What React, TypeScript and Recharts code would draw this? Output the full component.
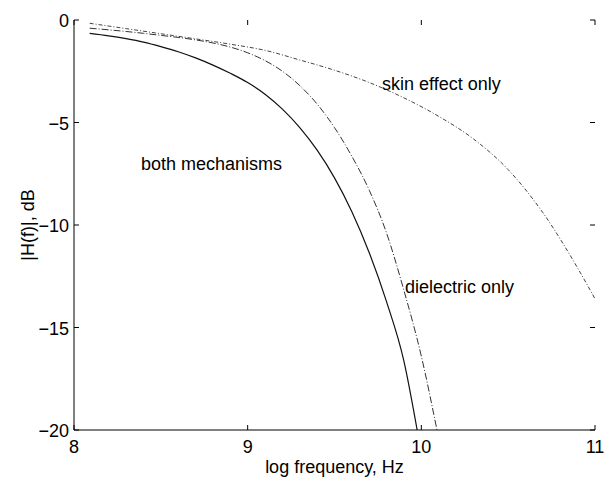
import React from 'react';
import { LineChart, Line, XAxis, YAxis } from 'recharts';

// log10 frequency (Hz) and |H(f)| in dB
const bothX = [8.09, 8.2, 8.3, 8.4, 8.5, 8.6, 8.7, 8.8, 8.9, 9.0, 9.1, 9.2, 9.3, 9.4, 9.5, 9.6, 9.7, 9.8, 9.9, 9.976];
const bothY = [-0.65, -0.77, -0.91, -1.08, -1.3, -1.55, -1.85, -2.2, -2.6, -3.05, -3.62, -4.35, -5.25, -6.35, -7.7, -9.35, -11.35, -13.75, -16.65, -20];

const dielectricX = [8.09, 8.2, 8.3, 8.4, 8.5, 8.6, 8.7, 8.8, 8.9, 9.0, 9.1, 9.2, 9.3, 9.4, 9.5, 9.6, 9.7, 9.8, 9.9, 10.0, 10.09];
const dielectricY = [-0.4, -0.48, -0.56, -0.65, -0.75, -0.85, -0.97, -1.12, -1.32, -1.6, -1.98, -2.5, -3.2, -4.1, -5.25, -6.65, -8.3, -10.4, -13.2, -16.4, -20];

const skinX = [8.09, 8.3, 8.5, 8.7, 8.9, 9.1, 9.3, 9.5, 9.7, 9.9, 10.1, 10.3, 10.5, 10.7, 10.9, 11.0];
const skinY = [-0.16, -0.42, -0.67, -0.92, -1.18, -1.48, -1.95, -2.45, -3.05, -3.8, -4.7, -5.8, -7.3, -9.4, -12.1, -13.6];

const xTicks = [8, 9, 10, 11];
const yTicks = [-20, -15, -10, -5, 0];

const toPoints = (xs: number[], ys: number[]) => xs.map((x, i) => ({ x, y: ys[i] }));
const bothData = toPoints(bothX, bothY);
const dielectricData = toPoints(dielectricX, dielectricY);
const skinData = toPoints(skinX, skinY);

const W = 607;
const H = 480;
const PLOT_LEFT = 74;
const PLOT_RIGHT = 595;
const PLOT_TOP = 20;
const PLOT_BOTTOM = 430;
const TICK_LEN = 5;
const FONT = '"Liberation Sans", Arial, Helvetica, sans-serif';

const fmt = (v: number) => (v < 0 ? '\u2212' + Math.abs(v) : String(v));

const XTick = ({ x, payload }: any) => (
  <g>
    <line x1={x} y1={PLOT_BOTTOM} x2={x} y2={PLOT_BOTTOM - TICK_LEN} stroke="#000" />
    <line x1={x} y1={PLOT_TOP} x2={x} y2={PLOT_TOP + TICK_LEN} stroke="#000" />
    <text x={x} y={453} textAnchor="middle" fontSize={18} fontFamily={FONT} fill="#000">
      {fmt(payload.value)}
    </text>
  </g>
);

const YTick = ({ y, payload }: any) => (
  <g>
    <line x1={PLOT_LEFT} y1={y} x2={PLOT_LEFT + TICK_LEN} y2={y} stroke="#000" />
    <line x1={PLOT_RIGHT} y1={y} x2={PLOT_RIGHT - TICK_LEN} y2={y} stroke="#000" />
    <text x={69} y={y + 7} textAnchor="end" fontSize={18} fontFamily={FONT} fill="#000">
      {fmt(payload.value)}
    </text>
  </g>
);

const App: React.FC = () => {
  return (
    <div style={{ position: 'absolute', left: 0, top: 0, width: W, height: H, background: '#fff' }}>
      <LineChart
        width={W}
        height={H}
        margin={{ top: PLOT_TOP, right: W - PLOT_RIGHT, left: 0, bottom: 0 }}
      >
        <XAxis
          dataKey="x"
          type="number"
          domain={[8, 11]}
          ticks={xTicks}
          height={H - PLOT_BOTTOM}
          tickLine={false}
          axisLine={{ stroke: '#000' }}
          tick={<XTick />}
          allowDataOverflow
        />
        <XAxis
          xAxisId="top"
          orientation="top"
          dataKey="x"
          type="number"
          domain={[8, 11]}
          height={0}
          tick={false}
          tickLine={false}
          axisLine={{ stroke: '#000' }}
        />
        <YAxis
          type="number"
          domain={[-20, 0]}
          ticks={yTicks}
          width={PLOT_LEFT}
          tickLine={false}
          axisLine={{ stroke: '#000' }}
          tick={<YTick />}
          allowDataOverflow
        />
        <YAxis
          yAxisId="right"
          orientation="right"
          type="number"
          domain={[-20, 0]}
          width={0}
          tick={false}
          tickLine={false}
          axisLine={{ stroke: '#000' }}
        />
        <Line data={bothData} dataKey="y" type="monotone" stroke="#111" strokeWidth={1.2} dot={false} isAnimationActive={false} />
        <Line data={dielectricData} dataKey="y" type="monotone" stroke="#333" strokeWidth={1} strokeDasharray="7 2 1 2" dot={false} isAnimationActive={false} />
        <Line data={skinData} dataKey="y" type="monotone" stroke="#444" strokeWidth={1} strokeDasharray="4 2 1 2" dot={false} isAnimationActive={false} />
      </LineChart>
      <svg width={W} height={H} style={{ position: 'absolute', left: 0, top: 0, pointerEvents: 'none' }}>
        <g fontFamily={FONT} fontSize={18} fill="#000">
          <text x={382} y={90}>skin effect only</text>
          <text x={141} y={170}>both mechanisms</text>
          <text x={405} y={293}>dielectric only</text>
          <text x={(PLOT_LEFT + PLOT_RIGHT) / 2} y={473} textAnchor="middle">log frequency, Hz</text>
          <text x={0} y={0} textAnchor="middle" transform={`translate(34, ${(PLOT_TOP + PLOT_BOTTOM) / 2}) rotate(-90)`}>
            |H(f)|, dB
          </text>
        </g>
      </svg>
    </div>
  );
};

export default App;
